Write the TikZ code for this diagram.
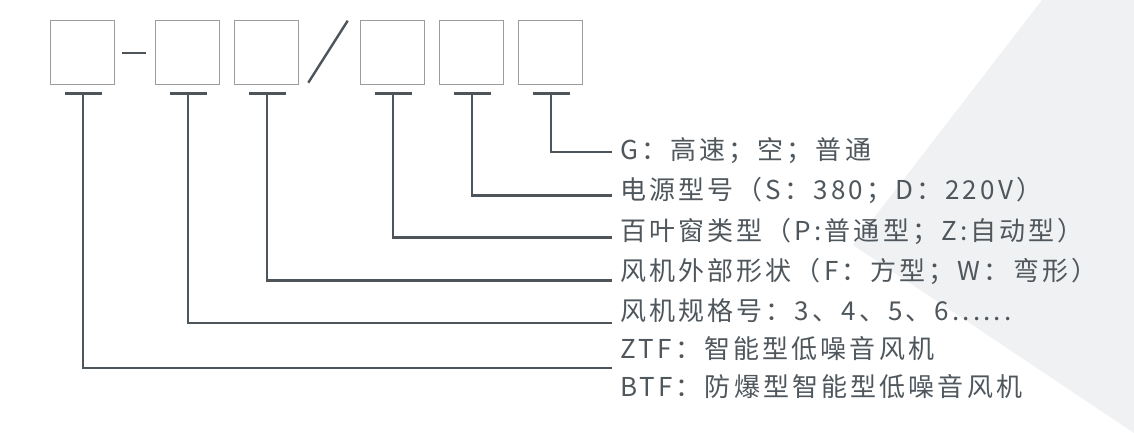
\documentclass[tikz,border=0pt]{standalone}
\usepackage{fontspec}
\newfontfamily\cjk[LetterSpace=12]{Noto Sans CJK SC}
\definecolor{linecol}{HTML}{4D555B}
\definecolor{boxcol}{HTML}{9C9C9C}
\definecolor{txtcol}{HTML}{4F575D}
\definecolor{bgtri}{HTML}{F0F1F3}
\tikzset{
  codebox/.style={draw=boxcol, line width=1.4pt, minimum width=64pt, minimum height=64pt, inner sep=0pt, anchor=north west},
  conn/.style={draw=linecol, line width=2.4pt},
  tbar/.style={draw=linecol, line width=2.4pt},
  label/.style={anchor=base west, inner sep=0pt, text=txtcol, font=\cjk\fontsize{26}{30}\selectfont},
}
\begin{document}
\begin{tikzpicture}[x=1pt,y=-1pt]
\useasboundingbox (0,0) rectangle (1134,433);
\fill[white] (0,0) rectangle (1134,433);
\fill[bgtri] (1042,0) -- (1134,0) -- (1134,433) -- (853,245) -- cycle;
% boxes
\node[codebox] (b1) at (49.5,20) {};
\node[codebox] (b2) at (154.5,20) {};
\node[codebox] (b3) at (233.5,20) {};
\node[codebox] (b4) at (359.5,20) {};
\node[codebox] (b5) at (438.5,20) {};
\node[codebox] (b6) at (517.5,20) {};
% separators
\coordinate (d1) at (122,53.3);
\coordinate (d2) at (146,53.3);
\draw[conn] (d1) -- (d2);
\coordinate (sl1) at (308.3,82.7);
\coordinate (sl2) at (347.7,20.7);
\draw[conn] (sl1) -- (sl2);
% labels
\node[label] (t1) at (620,159.5) {G：高速；空；普通};
\node[label] (t2) at (620,199.5) {电源型号（S：380；D：220V）};
\node[label] (t3) at (620,240.5) {百叶窗类型（P:普通型；Z:自动型）};
\node[label] (t4) at (620,280.5) {风机外部形状（F：方型；W：弯形）};
\node[label] (t5) at (620,320.5) {风机规格号：3、4、5、6......};
\node[label] (t6) at (620,358.5) {ZTF：智能型低噪音风机};
\node[label] (t7) at (620,396.5) {BTF：防爆型智能型低噪音风机};
% T bars and connectors
\foreach \b/\y in {b6/151.7, b5/195.3, b4/237.3, b3/280.3, b2/323, b1/368} {
  \coordinate (s\b) at ([xshift=1pt,yshift=-8.3pt]\b.south);
  \coordinate (e\b) at (612,\y);
  \draw[tbar] ([xshift=-18.5pt]s\b) -- ([xshift=18.5pt]s\b);
  \draw[conn] (s\b) |- (e\b);
}
\end{tikzpicture}
\end{document}
